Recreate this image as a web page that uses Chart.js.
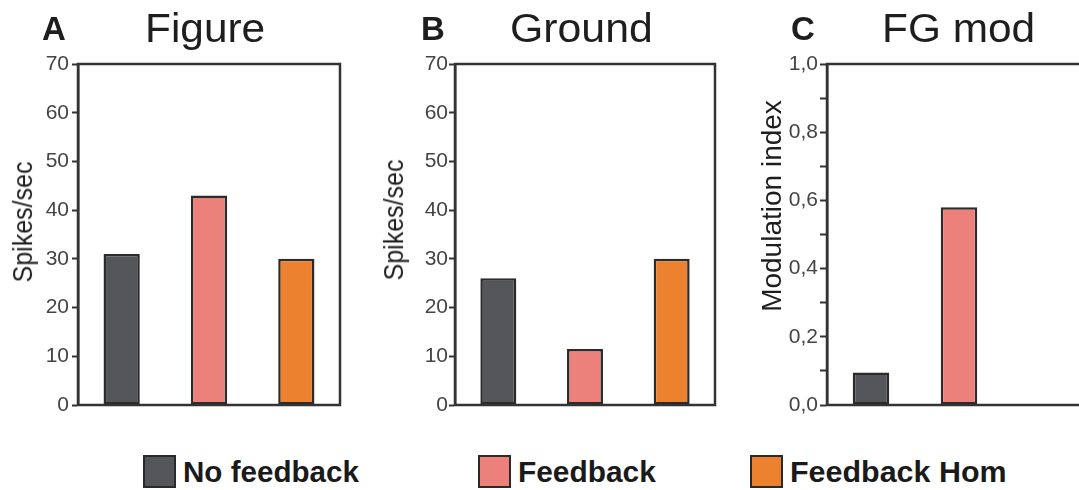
<!DOCTYPE html>
<html><head><meta charset="utf-8">
<script src="https://cdn.jsdelivr.net/npm/chart.js@4"></script>
<style>
html,body{margin:0;padding:0;background:#fff;width:1079px;height:490px;overflow:hidden;position:relative;font-family:"Liberation Sans",Arial,sans-serif;}
canvas{position:absolute;top:0;}
.t{position:absolute;white-space:nowrap;transform-origin:0 0;color:#1e1e1e;}
.letter{font-weight:bold;font-size:33px;line-height:33px;}
.title{font-size:40px;line-height:40px;}
.ytitle{position:absolute;width:0;height:0;}
.ytitle span{position:absolute;left:0;top:0;white-space:nowrap;color:#1e1e1e;line-height:1;}
.sw{position:absolute;top:455px;width:33px;height:33px;box-sizing:border-box;border:2px solid #2a2a2a;}
.leg{position:absolute;top:458px;font-weight:bold;font-size:29px;line-height:29px;white-space:nowrap;transform-origin:0 0;color:#1a1a1a;}
</style></head><body>
<canvas id="cA" width="350" height="430" style="left:0px"></canvas>
<canvas id="cB" width="355" height="430" style="left:370px"></canvas>
<canvas id="cC" width="360" height="430" style="left:740px"></canvas>

<div class="t letter" style="left:42px;top:12px">A</div>
<div class="t title" style="left:145px;top:8px;transform:scaleX(1.06)">Figure</div>
<div class="t letter" style="left:421px;top:12px">B</div>
<div class="t title" style="left:510px;top:8px;transform:scaleX(1.07)">Ground</div>
<div class="t letter" style="left:791px;top:12px">C</div>
<div class="t title" style="left:882px;top:8px;transform:scaleX(1.06)">FG mod</div>

<div class="ytitle" style="left:23px;top:222px"><span style="font-size:25px;transform:translate(-50%,-50%) rotate(-90deg) scaleY(1.1)">Spikes/sec</span></div>
<div class="ytitle" style="left:394px;top:220px"><span style="font-size:25px;transform:translate(-50%,-50%) rotate(-90deg) scaleY(1.1)">Spikes/sec</span></div>
<div class="ytitle" style="left:772px;top:206px"><span style="font-size:28px;transform:translate(-50%,-50%) rotate(-90deg)">Modulation index</span></div>

<div id="legend"></div>

<script>
const categories = ['No feedback', 'Feedback', 'Feedback Hom'];
const figureValues = [31, 43, 30];
const groundValues = [26, 11.5, 30];
const fgModValues = [0.095, 0.58, null];
const spikeTickLabels = ['0', '10', '20', '30', '40', '50', '60', '70'];
const modTickLabels = ['0,0', '', '0,2', '', '0,4', '', '0,6', '', '0,8', '', '1,0'];

const barColors = ['#545659', '#ec807a', '#ec812f'];
const edge = '#2b2b2b';

const framePlugin = {
  id: 'frame',
  afterDatasetsDraw(chart) {
    const {ctx, chartArea: a} = chart;
    ctx.save();
    ctx.strokeStyle = '#333';
    ctx.lineWidth = 2.5;
    ctx.strokeRect(a.left, a.top, a.right - a.left, a.bottom - a.top);
    ctx.restore();
  }
};

function makeChart(id, values, tickLabels, cfg) {
  return new Chart(document.getElementById(id), {
    type: 'bar',
    data: {
      labels: categories,
      datasets: [{
        data: values,
        backgroundColor: barColors,
        borderColor: edge,
        borderWidth: 2.5,
        borderSkipped: false,
        categoryPercentage: 1,
        barPercentage: 0.415
      }]
    },
    options: {
      responsive: false,
      animation: false,
      layout: {padding: {top: 64, right: cfg.padRight, bottom: 25, left: 0}},
      plugins: {legend: {display: false}, tooltip: {enabled: false}},
      scales: {
        x: {
          display: true,
          ticks: {display: false},
          grid: {display: false},
          border: {display: false},
          afterFit: s => { s.height = 0; }
        },
        y: {
          min: 0, max: cfg.max,
          ticks: {
            stepSize: cfg.step,
            padding: cfg.tickPad,
            color: '#444',
            font: {family: 'Liberation Sans', size: 21},
            callback: (v, i) => tickLabels[i]
          },
          grid: {drawOnChartArea: false, drawTicks: true, tickLength: cfg.tickLen, tickWidth: 2, tickColor: '#333'},
          border: {display: true, color: '#333', width: 2.5},
          afterFit: s => { s.width = cfg.yWidth; }
        }
      }
    },
    plugins: [framePlugin]
  });
}

makeChart('cA', figureValues, spikeTickLabels, {max: 70, step: 10, yWidth: 78, padRight: 10, tickPad: 3, tickLen: 6});
makeChart('cB', groundValues, spikeTickLabels, {max: 70, step: 10, yWidth: 85, padRight: 10, tickPad: 1, tickLen: 6});
makeChart('cC', fgModValues, modTickLabels, {max: 1, step: 0.1, yWidth: 87, padRight: 9, tickPad: 2, tickLen: 7});

const legendPos = [{sw: 143, tx: 183, sx: 1.02}, {sw: 478, tx: 518, sx: 1.03}, {sw: 750, tx: 790, sx: 1.05}];
const leg = document.getElementById('legend');
categories.forEach((name, i) => {
  const s = document.createElement('div');
  s.className = 'sw';
  s.style.left = legendPos[i].sw + 'px';
  s.style.background = barColors[i];
  leg.appendChild(s);
  const t = document.createElement('div');
  t.className = 'leg';
  t.style.left = legendPos[i].tx + 'px';
  t.style.transform = 'scaleX(' + legendPos[i].sx + ')';
  t.textContent = name;
  leg.appendChild(t);
});
</script>
</body></html>
